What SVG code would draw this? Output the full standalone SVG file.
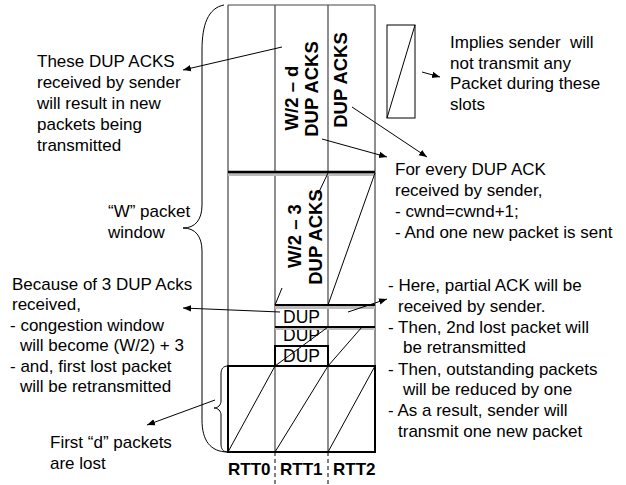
<svg xmlns="http://www.w3.org/2000/svg" width="626" height="485" viewBox="0 0 626 485">
<defs>
<marker id="ah" viewBox="0 0 10 10" refX="10" refY="5" markerWidth="8" markerHeight="8" markerUnits="userSpaceOnUse" orient="auto">
<path d="M0,1 L10,5 L0,9 z" fill="#000"/>
</marker>
<style>
text{font-family:"Liberation Sans",Arial,sans-serif;font-size:17px;fill:#000;white-space:pre}
.b{font-weight:bold}
.r{font-weight:bold;font-size:18.5px}
.d{font-size:17.5px}
.col{stroke:#444;stroke-width:1.2;fill:none}
.thin{stroke:#000;stroke-width:1;fill:none}
.thick{stroke:#000;stroke-width:2.5;fill:none}
.band{stroke:#bbb;stroke-width:4;fill:none}
.ar{stroke:#000;stroke-width:1;fill:none;marker-end:url(#ah)}
</style>
</defs>
<rect width="626" height="485" fill="#fff"/>

<g id="window">
<line class="col" x1="228" y1="5" x2="375" y2="5"/>
<line class="col" x1="228" y1="5" x2="228" y2="452"/>
<line class="col" x1="275" y1="5" x2="275" y2="452"/>
<line class="col" x1="328" y1="5" x2="328" y2="452"/>
<line class="col" x1="375" y1="5" x2="375" y2="452"/>
<line class="band" x1="228" y1="174" x2="375" y2="174"/>
<line class="thick" x1="228" y1="172" x2="375" y2="172"/>
</g>

<g id="wd-acks">
<text class="r" transform="translate(298,98) rotate(-90)" text-anchor="middle">W/2 – d</text>
<text class="r" transform="translate(318,89) rotate(-90)" text-anchor="middle">DUP ACKS</text>
<text class="r" transform="translate(347,80) rotate(-90)" text-anchor="middle">DUP ACKS</text>
</g>

<g id="w3-acks">
<line class="thin" x1="328" y1="173" x2="318" y2="194"/>
<line class="thin" x1="282" y1="288" x2="275" y2="305"/>
<line class="thin" x1="375" y1="173" x2="328" y2="305"/>
<text class="r" transform="translate(301,236) rotate(-90)" text-anchor="middle">W/2 – 3</text>
<text class="r" transform="translate(322,237) rotate(-90)" text-anchor="middle">DUP ACKS</text>
</g>

<g id="dup-slots">
<text class="d" x="283" y="323">DUP</text>
<text class="d" x="283" y="341">DUP</text>
<line class="band" x1="275" y1="307" x2="375" y2="307"/>
<line class="thick" x1="275" y1="305" x2="375" y2="305" style="stroke-width:2"/>
<line class="band" x1="275" y1="328" x2="375" y2="328"/>
<line class="thick" x1="275" y1="327" x2="375" y2="327" style="stroke-width:2"/>
<text class="d" x="283" y="362">DUP</text>
<rect class="thick" x="275" y="346" width="53" height="20" style="stroke-width:2"/>
<line class="thin" x1="275" y1="366" x2="328" y2="327"/>
<line class="thin" x1="328" y1="366" x2="362" y2="327"/>
</g>

<g id="lost-packets">
<rect class="thick" x="228" y="366" width="147" height="86" style="stroke-width:2"/>
<line class="thin" x1="228" y1="452" x2="275" y2="366"/>
<line class="thin" x1="275" y1="452" x2="328" y2="366"/>
<line class="thin" x1="328" y1="452" x2="375" y2="366"/>
<path class="thin" d="M228,366 C223,366 221,369 221,374 L221,401 C221,405 218,408 214,408 C218,408 221,411 221,415 L221,444 C221,449 223,452 228,452"/>
</g>

<g id="brace">
<path class="thin" d="M224,5 C208,8 202,25 202,50 L202,205 C202,220 195,228 183,228 C195,228 202,236 202,251 L202,420 C202,440 210,452 228,452"/>
</g>

<g id="legend">
<rect class="thin" x="387" y="25" width="28" height="93"/>
<line class="thin" x1="387" y1="118" x2="415" y2="25"/>
</g>

<g id="rtt">
<line class="thin" x1="275" y1="452" x2="275" y2="485" stroke-dasharray="4,3"/>
<line class="thin" x1="328" y1="452" x2="328" y2="485" stroke-dasharray="4,3"/>
<text class="b" x="228" y="475">RTT0</text>
<text class="b" x="280" y="475">RTT1</text>
<text class="b" x="333" y="475">RTT2</text>
</g>

<g id="connectors">
<line class="ar" x1="282" y1="47" x2="183" y2="70"/>
<line class="ar" x1="322" y1="139" x2="387" y2="157"/>
<line class="ar" x1="352" y1="107" x2="427" y2="157"/>
<line class="ar" x1="422" y1="72" x2="440" y2="77"/>
<line class="ar" x1="280" y1="312" x2="183" y2="308"/>
<line class="ar" x1="348" y1="312" x2="387" y2="299"/>
<line class="ar" x1="215" y1="400" x2="147" y2="425"/>
</g>

<g id="note-dupacks">
<text x="37" y="67">These DUP ACKS</text>
<text x="37" y="88">received by sender</text>
<text x="37" y="109">will result in new</text>
<text x="37" y="130">packets being</text>
<text x="37" y="151">transmitted</text>
</g>

<g id="note-window">
<text x="108" y="217">“W” packet</text>
<text x="108" y="238">window</text>
</g>

<g id="note-legend">
<text x="450" y="48">Implies sender  will</text>
<text x="450" y="68.5">not transmit any</text>
<text x="450" y="89">Packet during these</text>
<text x="450" y="109.5">slots</text>
</g>

<g id="note-every">
<text x="395" y="175">For every DUP ACK</text>
<text x="395" y="196">received by sender,</text>
<text x="395" y="217">- cwnd=cwnd+1;</text>
<text x="395" y="238">- And one new packet is sent</text>
</g>

<g id="note-3dup">
<text x="12" y="290">Because of 3 DUP Acks</text>
<text x="12" y="310">received,</text>
<text x="10" y="331">- congestion window</text>
<text x="20" y="351">will become (W/2) + 3</text>
<text x="10" y="372">- and, first lost packet</text>
<text x="20" y="392">will be retransmitted</text>
</g>

<g id="note-lost">
<text x="50" y="448">First “d” packets</text>
<text x="50" y="469">are lost</text>
</g>

<g id="note-partial">
<text x="388" y="291">- Here, partial ACK will be</text>
<text x="398" y="312">received by sender.</text>
<text x="388" y="333">- Then, 2nd lost packet will</text>
<text x="403" y="353">be retransmitted</text>
<text x="388" y="375">- Then, outstanding packets</text>
<text x="403" y="395">will be reduced by one</text>
<text x="388" y="416">- As a result, sender will</text>
<text x="398" y="437">transmit one new packet</text>
</g>
</svg>
